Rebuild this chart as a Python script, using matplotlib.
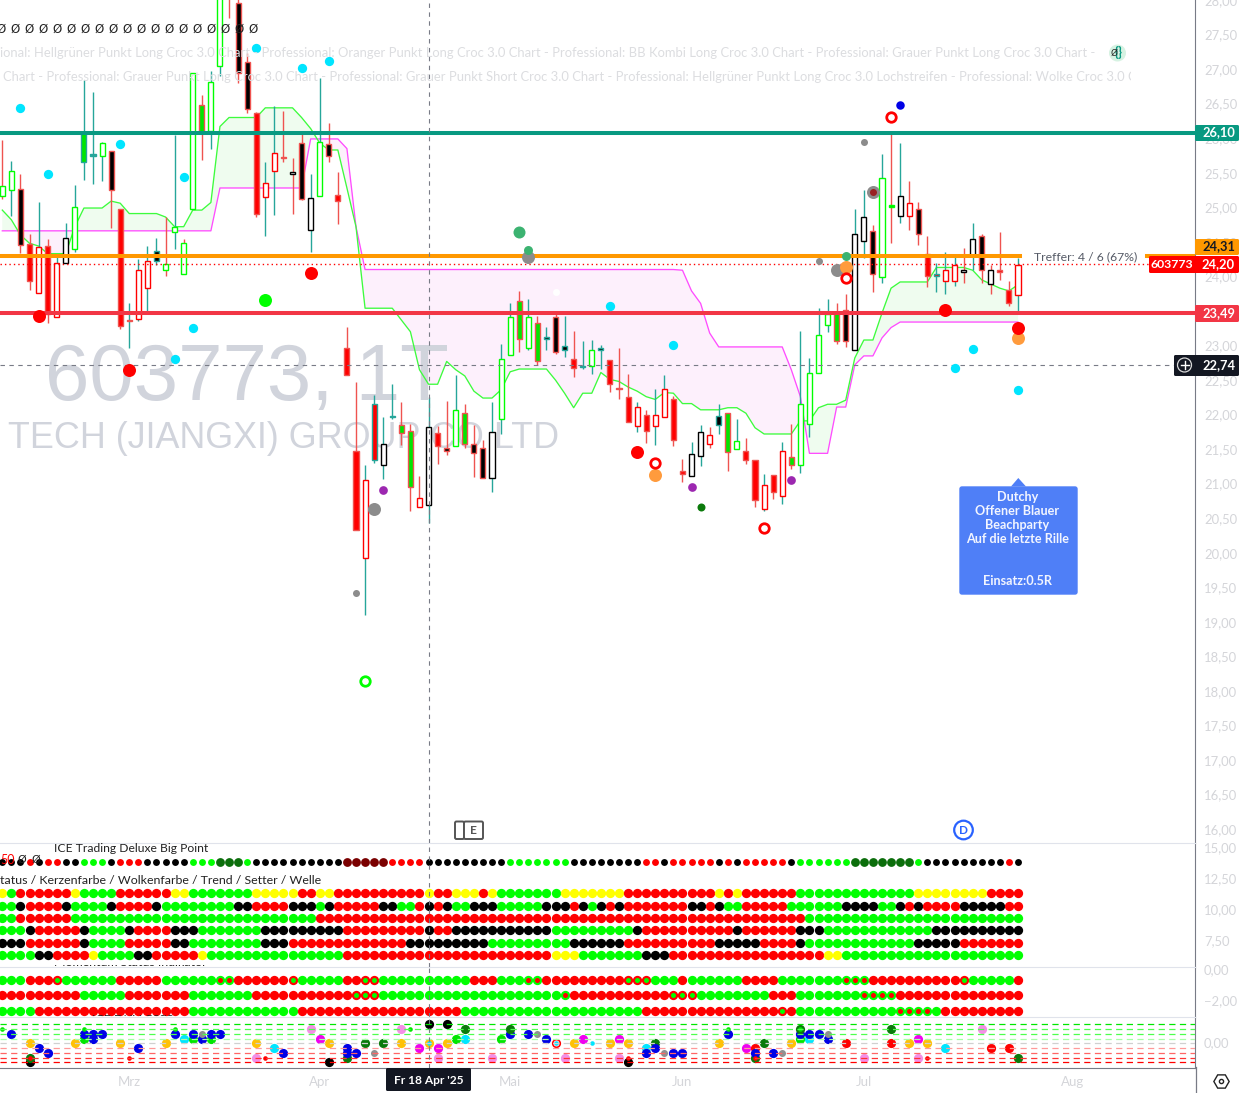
import matplotlib
matplotlib.use('Agg')
import matplotlib.pyplot as plt
import numpy as np
from matplotlib.patches import Circle, FancyBboxPatch, Polygon, Rectangle
from matplotlib.transforms import ScaledTranslation

W, H = 1244, 1093
X_RIGHT = 1195
FONT = 'Lato'
plt.rcParams['font.family'] = [FONT, 'DejaVu Sans']

# candles, one entry per bar
body_top = [25.33, 25.54, 25.29, 24.49, 24.45, 24.46, 24.22, 24.57, 25.02, 26.10,
            25.79, 25.95, 25.84, 24.99, 23.39, 24.12, 24.25, 24.39, 24.20, 24.74,
            24.51, 26.96, 26.50, 26.83, 28.30, 28.80, 27.98, 27.13, 26.39, 25.37,
            25.80, 25.75, 25.53, 25.95, 25.16, 25.97, 25.94, 25.20, 22.99, 21.50,
            21.08, 22.18, 21.60, 22.00, 21.87, 21.79, 20.81, 21.84, 21.75, 21.53,
            22.08, 22.05, 21.59, 21.54, 21.77, 22.82, 23.44, 23.66, 23.44, 23.34,
            23.15, 23.44, 23.02, 22.82, 22.73, 22.95, 22.98, 22.81, 22.41, 22.28,
            22.13, 22.01, 22.02, 22.39, 22.24, 21.21, 21.45, 21.77, 21.73, 22.00,
            22.05, 21.64, 21.50, 21.36, 21.00, 21.15, 21.50, 21.41, 22.17, 22.62,
            23.17, 23.47, 23.49, 23.53, 24.63, 24.88, 24.68, 25.45, 25.05, 25.18,
            25.08, 24.99, 24.34, 24.05, 24.11, 24.18, 24.12, 24.56, 24.60, 24.11,
            24.11, 23.83, 24.19]
body_bot = [25.19, 25.27, 24.47, 23.95, 23.78, 23.48, 23.44, 24.22, 24.42, 25.67,
            25.76, 25.77, 25.27, 23.30, 23.37, 23.41, 23.85, 24.25, 24.11, 24.66,
            24.06, 24.99, 26.11, 26.13, 27.07, 28.10, 26.97, 26.45, 24.93, 25.17,
            25.55, 25.73, 25.50, 25.14, 24.69, 25.18, 25.76, 25.11, 22.60, 20.35,
            19.95, 21.37, 21.29, 21.98, 21.75, 20.98, 20.68, 20.71, 21.56, 21.50,
            21.56, 21.59, 21.47, 21.11, 21.11, 21.95, 22.89, 23.12, 22.98, 22.79,
            23.12, 22.92, 22.96, 22.69, 22.71, 22.72, 22.95, 22.46, 22.39, 21.92,
            21.85, 21.78, 21.85, 21.98, 21.66, 21.16, 21.13, 21.42, 21.60, 21.87,
            21.48, 21.52, 21.36, 20.79, 20.65, 20.90, 20.84, 21.29, 21.29, 21.89,
            22.62, 23.31, 23.08, 23.08, 22.95, 24.53, 24.05, 24.01, 25.02, 24.90,
            24.90, 24.63, 24.02, 24.02, 23.96, 23.95, 24.09, 24.33, 24.12, 23.91,
            24.08, 23.63, 23.75]
wick_hi = [25.99, 25.69, 25.50, 24.64, 25.10, 24.56, 24.35, 24.79, 25.34, 26.87,
           26.69, 25.96, 25.84, 24.99, 23.64, 24.27, 24.46, 24.57, 24.88, 26.07,
           24.56, 26.96, 26.65, 26.99, 28.40, 28.90, 28.20, 27.25, 26.40, 25.67,
           26.48, 26.42, 25.73, 26.13, 25.50, 26.89, 26.24, 25.53, 23.29, 22.49,
           21.29, 22.30, 21.98, 22.47, 22.20, 21.89, 21.13, 22.28, 21.86, 22.22,
           22.59, 22.17, 21.87, 21.65, 22.20, 23.04, 23.63, 23.81, 23.69, 23.45,
           23.29, 23.50, 23.45, 23.23, 23.09, 23.10, 23.03, 22.81, 22.98, 22.61,
           22.20, 22.08, 22.39, 22.59, 22.29, 21.38, 21.62, 21.87, 21.84, 22.18,
           22.05, 21.95, 21.68, 21.36, 21.16, 21.15, 21.63, 21.88, 23.23, 22.84,
           23.56, 23.69, 23.63, 23.76, 25.00, 25.27, 24.76, 25.79, 26.09, 25.95,
           25.40, 25.10, 24.61, 24.22, 24.38, 24.35, 24.43, 24.79, 24.63, 24.19,
           24.66, 23.95, 24.29]
wick_lo = [25.14, 24.89, 24.36, 23.82, 23.78, 23.35, 23.44, 24.22, 24.38, 25.42,
           25.36, 25.40, 24.72, 23.26, 22.99, 23.37, 23.51, 24.19, 24.03, 24.41,
           24.06, 24.99, 25.70, 25.87, 26.92, 27.76, 26.82, 26.39, 24.88, 24.61,
           24.91, 25.68, 24.93, 25.12, 24.38, 25.18, 25.68, 24.78, 22.60, 20.35,
           19.12, 21.32, 21.09, 21.95, 21.58, 20.62, 20.68, 20.45, 21.31, 21.43,
           21.56, 21.54, 21.12, 21.11, 20.90, 21.74, 22.89, 22.92, 22.95, 22.74,
           22.96, 22.90, 22.86, 22.57, 22.68, 22.61, 22.68, 22.35, 22.25, 21.92,
           21.77, 21.61, 21.58, 21.98, 21.57, 21.04, 21.13, 21.28, 21.53, 21.74,
           21.21, 21.52, 21.31, 20.69, 20.62, 20.80, 20.72, 21.23, 21.18, 21.70,
           22.62, 23.22, 23.04, 23.00, 22.95, 24.28, 23.79, 23.93, 24.50, 24.79,
           24.69, 24.47, 23.87, 23.79, 23.77, 23.88, 23.93, 24.12, 23.93, 23.77,
           23.97, 23.59, 23.52]
body_fill = ('wwkrwrwwwg' 'twkrrwwkww' 'wwgwwrkkrw' 'wrwkwwkrrr' 'wrwtggwwrk'
             'wgkkwwwgwg' 'kkkrtwkrkr' 'wrwwrrwwwk' 'gwrrwrwgww' 'wwgkwwkwgw'
             'wkrrwwwwkw' 'rrw')
body_edge = ('ggrrRrRkgt' 'tgrrrRRtgg' 'ggrggrrrrR' 'Rrkrkgrrrr' 'RtktrrRkrr'
             'grrrkggrgr' 'trtrtgtrrr' 'RrRRrrkkRt' 'rgrrRrRrgg' 'ggrrkkrggk'
             'RrrtRRkkrk' 'rrR')
wick_col = ('rtrrtrtttt' 'ttrrttttrt' 'rtrttrrrrt' 'trrrttrrrr' 'ttttrrrtrr'
            'trrrtttrtr' 'trtrtttrrr' 'trttrrttrt' 'rtrrtrtrtt' 'ttrrttrtrt'
            'rrrtttrtrr' 'rrt')

# the two cloud lines
green_line = [24.98, 24.84, 24.62, 24.50, 24.46, 24.35, 24.35, 24.35, 24.74, 25.01,
              25.01, 25.01, 25.11, 25.08, 24.93, 24.93, 24.93, 24.93, 24.88, 24.74,
              24.74, 24.98, 24.98, 25.09, 26.19, 26.32, 26.32, 26.32, 26.32, 26.46,
              26.46, 26.46, 26.46, 26.32, 26.16, 25.95, 25.85, 25.85, 25.30, 24.74,
              23.56, 23.56, 23.56, 23.56, 23.39, 23.22, 22.67, 22.46, 22.46, 22.79,
              22.67, 22.58, 22.36, 22.26, 22.26, 22.38, 22.64, 22.68, 22.68, 22.68,
              22.68, 22.52, 22.33, 22.12, 22.33, 22.33, 22.63, 22.53, 22.50, 22.42,
              22.36, 22.28, 22.24, 22.34, 22.33, 22.18, 22.18, 22.09, 22.09, 22.09,
              22.12, 22.12, 22.04, 21.83, 21.74, 21.74, 21.74, 21.74, 21.93, 21.93,
              22.12, 22.17, 22.17, 22.23, 22.84, 23.10, 23.10, 23.49, 23.85, 23.94,
              23.94, 23.94, 23.94, 24.15, 24.15, 24.15, 24.15, 24.11, 23.97, 23.91,
              23.85, 23.81, 23.90]
magenta_line = ([24.68] * 24 + [25.30] * 10 + [26.01] * 4 + [25.87, 24.74] + [24.12] * 35 +
                [24.11, 23.81, 23.63, 23.20] + [23.00] * 8 +
                [22.67, 22.28, 21.46, 21.46, 21.46, 22.13, 22.13, 22.74, 22.87, 22.87, 23.13, 23.28] +
                [23.36] * 14)

# dots in the price pane: bar index, price
cyan_i = [2, 5, 13, 20, 28, 33, 36, 21, 19, 67, 74, 107, 105, 112]
cyan_p = [26.46, 25.50, 25.94, 25.46, 27.33, 27.04, 27.14, 23.27, 22.82, 23.59, 23.03, 22.97, 22.69, 22.38]
red_i = [4, 34, 14, 70, 104, 112]
red_p = [23.45, 24.07, 22.67, 21.48, 23.53, 23.27]
gray_i = [58, 41, 92, 96]
gray_p = [24.30, 20.65, 24.11, 25.24]
gray_small_i = [39, 95, 90]
gray_small_p = [19.44, 25.97, 24.24]
purple_i = [42, 76, 87]
purple_p = [20.93, 20.97, 21.07]
orange_i = [72, 93, 112]
orange_p = [21.15, 24.16, 23.13]
ring_i = [72, 84, 98, 93]
ring_p = [21.32, 20.38, 26.33, 24.00]
seagreen_i = [57, 58, 93]
seagreen_p = [24.66, 24.40, 24.32]

levels = [('#089981', 26.10), ('#ff9800', 24.31), ('#f23645', 23.49)]
last_price = 24.20
cross_price = 22.74
cross_bar = 47

price_ticks = [16 + 0.5 * k for k in range(25)]
status_ticks = [15.0, 12.5, 10.0, 7.5]
momentum_ticks = [0.0, -2.0]
month_bars = [14, 35, 56, 75, 95, 118]
month_labels = ['Mrz', 'Apr', 'Mai', 'Jun', 'Jul', 'Aug']

# status rows, one letter per bar
big_point = 'kkkrkrrkkgggkrrrkkkkkgggDDDg' + 'k' * 10 + 'M' * 5 + 'r' * 4 + 'k' * 9 + 'g' * 7 + 'k' * 8 + \
            'rrk' + 'r' * 5 + 'krk' + 'r' * 5 + 'k' + 'g' * 6 + 'D' * 7 + 'g' + 'k' * 9 + 'rk'
status_1 = 'yg' + 'r' * 6 + 'y' + 'g' * 4 + 'r' * 6 + 'yy' + 'g' * 7 + 'y' * 5 + 'rryy' + 'r' * 10 + 'yrr' + 'yyy' + \
           'ry' + 'g' * 7 + 'y' * 7 + 'r' * 10 + 'yry' + 'r' * 6 + 'g' * 13 + 'y' * 8 + 'rrrr'
status_2 = 'ggk' + 'rrrr' + 'k' + 'gggg' + 'k' + 'rrrr' + 'k' + 'g' * 8 + 'kk' + 'rrrr' + 'kkkgk' + 'r' * 5 + 'kkgg' + \
           'rkrkgg' + 'kkk' + 'g' * 5 + 'kkk' + 'rkgkrk' + 'r' * 7 + 'kkrkgg' + 'r' * 5 + 'g' * 6 + 'kkkkggkrk' + \
           'rrrr' + 'k' * 5 + 'rr'
status_3 = 'gg' + 'r' * 6 + 'g' * 27 + 'r' * 54 + 'g' * 24
status_4 = 'gggk' + 'r' * 5 + 'k' + 'gggg' + 'k' + 'rrrr' + 'kkk' + 'g' * 7 + 'k' * 9 + 'r' * 9 + 'krr' + 'k' * 11 + \
           'g' * 9 + 'k' + 'r' * 10 + 'k' + 'r' * 6 + 'kkk' + 'g' * 12 + 'k' * 10
status_5 = 'kkk' + 'r' * 6 + 'k' + 'gggg' + 'r' * 5 + 'kk' + 'g' * 8 + 'kkk' + 'r' * 13 + 'k' * 9 + 'g' * 9 + 'k' * 6 + \
           'r' * 10 + 'k' * 5 + 'rrrr' + 'k' + 'g' * 12 + 'k' * 5 + 'r' * 7
status_6 = 'ggggkk' + 'rrrr' + 'y' + 'gggg' + 'kk' + 'r' * 5 + 'y' + 'g' * 15 + 'r' * 23 + 'yyy' + 'g' * 7 + 'kkk' + \
           'r' * 17 + 'yy' + 'g' * 20
status_rows = [status_1, status_2, status_3, status_4, status_5, status_6]
status_values = [11.45, 10.38, 9.44, 8.44, 7.40, 6.43]

# a = red with green centre, b = green with red centre
momentum_1 = 'gggrrra' + 'g' * 6 + 'r' * 5 + 'g' * 6 + 'bb' + 'r' * 6 + 'a' + 'g' * 5 + 'rraa' + 'g' * 10 + 'rrrgggbb' + \
             'r' * 9 + 'aaaggg' + 'r' + 'g' * 6 + 'rrrr' + 'g' * 7 + 'bbb' + 'r' * 10 + 'a' + 'g' * 5 + 'r'
momentum_2 = 'r' * 9 + 'g' * 5 + 'r' * 7 + 'g' * 7 + 'r' * 11 + 'aaa' + 'g' * 20 + 'b' + 'r' * 11 + 'aaa' + 'g' * 8 + \
             'rrr' + 'g' * 7 + 'bbbb' + 'r' * 14
momentum_3 = 'gggg' + 'r' * 17 + 'g' * 12 + 'r' * 18 + 'g' * 20 + 'r' * 15 + 'ar' + 'g' * 11 + 'bbbbg' + 'r' * 9
momentum_rows = [momentum_1, momentum_2, momentum_3]
momentum_values = [-0.6, -1.57, -2.6]

# DNA dots: bar, level, colour letter
dna_points = [(0, 3, 'g'), (1, 2, 'B'), (3, 0, 'O'), (4, -1, 'B'), (5, -2, 'B'), (3, -4, 'K'), (3, -3, 'D'), (3, -3, 'r'),
              (8, 0, 'O'), (9, 1, 'G'), (9, 2, 'B'), (9, 3, 'g'), (10, 1, 'B'), (10, 2, 'B'), (11, 2, 'B'), (13, 0, 'O'),
              (14, -3, 'r'), (15, -1, 'B'), (18, 0, 'O'), (19, 2, 'B'), (19, 3, 'g'), (21, 1, 'G'), (21, 2, 'B'),
              (20, 1, 'C'), (22, 1, 'B'), (22, 2, 'A'), (23, 1, 'G'), (23, 2, 'B'), (24, 2, 'B'), (28, 0, 'O'), (28, -3, 'P'),
              (29, -3, 'r'), (30, -1, 'C'), (31, -2, 'B'), (34, 3, 'P'), (35, 1, 'M'), (36, 0, 'O'), (36, -4, 'K'),
              (38, -3, 'D'), (38, -2, 'B'), (38, -1, 'B'), (39, -2, 'B'), (40, 0, 'D'), (41, -2, 'A'), (42, 0, 'D'),
              (44, 3, 'P'), (44, 0, 'O'), (45, 3, 'g'), (46, -1, 'M'), (47, 4, 'K'), (47, 0, 'O'), (47, 0, 'c'),
              (48, -1, 'M'), (48, -3, 'P'), (49, 4, 'K'), (49, 0, 'O'), (50, 1, 'G'), (51, 3, 'D'), (51, 1, 'C'),
              (54, -3, 'P'), (55, 1, 'G'), (56, 2, 'B'), (56, 3, 'D'), (58, 2, 'B'), (59, 2, 'A'), (60, 1, 'B'),
              (61, 0, 'R'), (61, 0, 'W'), (61, 0, 'c'), (62, -3, 'P'), (63, 0, 'O'), (64, 1, 'M'), (65, 0, 'c'), (67, 0, 'O'),
              (68, 1, 'M'), (68, -3, 'P'), (69, 0, 'O'), (69, -4, 'K'), (69, -3, 'r'), (71, -1, 'C'), (71, -2, 'B'),
              (72, 0, 'D'), (72, -1, 'B'), (73, -2, 'A'), (74, -2, 'B'), (75, -2, 'B'), (79, 0, 'O'), (80, 2, 'B'),
              (80, 3, 'g'), (82, -1, 'M'), (83, -1, 'R'), (83, -3, 'D'), (83, -2, 'B'), (83, -3, 'r'), (84, 0, 'D'),
              (85, -2, 'B'), (86, -2, 'A'), (87, 0, 'O'), (88, 1, 'G'), (88, 2, 'B'), (88, 3, 'D'), (88, 3, 'g'),
              (89, 1, 'C'), (89, 2, 'B'), (90, 2, 'B'), (91, 1, 'B'), (91, 2, 'A'), (93, 0, 'R'), (95, -3, 'P'),
              (98, 3, 'D'), (98, 0, 'R'), (100, 0, 'O'), (101, 1, 'M'), (101, -3, 'P'), (102, 0, 'O'), (102, -3, 'r'),
              (104, -1, 'C'), (108, 3, 'P'), (109, -1, 'R'), (111, -1, 'R'), (112, -3, 'D')]
dna_levels = [4, 3, 2, 1, 0, -1, -2, -3, -4]
dna_level_colors = ['#00e600', '#4dff4d', '#4dff4d', '#a6ffa6', '#d0d0d0', '#ff9999', '#ff6666', '#ff3333', '#ff0000']

FILLS = {'r': '#ff0000', 'g': '#00e600', 'k': '#000000', 'w': '#ffffff', 't': '#26a69a'}
EDGES = {'r': '#ef5350', 'R': '#ff0000', 'g': '#00ff00', 'k': '#000000', 't': '#26a69a'}
WICKS = {'r': '#ef5350', 't': '#26a69a'}
DOTS = {'r': '#ff0000', 'g': '#00ff00', 'k': '#000000', 'y': '#ffff00', 'D': '#0b6e0b', 'M': '#7a0000',
        'a': '#ff0000', 'b': '#00ff00'}
DNA_COLORS = {'B': ('#0000e6', 9.2), 'O': ('#ffc107', 9.2), 'D': ('#0b7a0b', 9.2), 'G': ('#00e600', 9.2),
              'C': ('#00e5ff', 9.2), 'P': ('#f48fe6', 9.2), 'M': ('#f000f0', 9.2), 'K': ('#000000', 9.2),
              'A': ('#909090', 7), 'R': ('#ff0000', 9.2), 'W': ('#ffffff', 6.0), 'g': ('#00e600', 4.6),
              'r': ('#ff0000', 4.6), 'c': ('#00e5ff', 4.6)}

TICK_GRAY = '#d4d5d9'
AXIS_GRAY = '#787b86'
PANE_LINE = '#e0e3eb'
DARK = '#131722'

BAR_STEP = 9.069
X0 = 2.3
n_bars = len(body_top)
bars = np.arange(n_bars)


def dot_size(d_px):
    # diameter in pixels to scatter area in points
    return (d_px * 0.72) ** 2


def comma(v):
    return '{:.2f}'.format(v).replace('.', ',').replace('-', '\u2212')


def make_pane(fig, top, bottom, y_top, y_bottom, ticks):
    ax = fig.add_axes([0, 1 - bottom / H, X_RIGHT / W, (bottom - top) / H])
    ax.set_xlim(-X0 / BAR_STEP, (X_RIGHT - X0) / BAR_STEP)
    ax.set_ylim(y_bottom, y_top)
    ax.yaxis.tick_right()
    ax.set_yticks(ticks)
    ax.set_yticklabels([comma(t) for t in ticks], fontsize=9.4, color=TICK_GRAY)
    ax.tick_params(axis='y', length=0, pad=6.5)
    # axis labels sit a little above their gridline in the original
    up = ScaledTranslation(0, 1.5 / 100, fig.dpi_scale_trans)
    for label in ax.get_yticklabels():
        label.set_transform(label.get_transform() + up)
    ax.set_xticks([])
    for side in ['left', 'top', 'bottom']:
        ax.spines[side].set_visible(False)
    ax.spines['right'].set_color(AXIS_GRAY)
    ax.spines['top'].set_visible(True)
    ax.spines['top'].set_color(PANE_LINE)
    ax.axvline(cross_bar, color=AXIS_GRAY, lw=0.8, dashes=(4, 4), zorder=9)
    return ax


def draw_price_pane(ax):
    ax.spines['top'].set_visible(False)
    ax.text(45 / X_RIGHT, 1 - 400.5 / 843, '603773, 1T', transform=ax.transAxes, fontsize=57.5,
            family='Liberation Sans', color='#d1d4dc', zorder=1.5)
    ax.text(8 / X_RIGHT, 1 - 448 / 843, 'TECH (JIANGXI) GROUP CO LTD', transform=ax.transAxes, fontsize=25.8,
            family='Liberation Sans', color='#d1d4dc', zorder=1.5)

    green = np.array(green_line)
    magenta = np.array(magenta_line)
    ax.fill_between(bars, green, magenta, where=green >= magenta, interpolate=True, color='#effcef', lw=0, zorder=1)
    ax.fill_between(bars, green, magenta, where=green < magenta, interpolate=True, color='#fdf0fc', lw=0, zorder=1)
    ax.plot(bars, magenta, color='#ff4dff', lw=0.95, zorder=2)
    ax.plot(bars, green, color='#3dfc3d', lw=0.95, zorder=2)

    ax.vlines(bars, wick_lo, wick_hi, colors=[WICKS[c] for c in wick_col], lw=1.0, zorder=3)
    heights = np.array(body_top) - np.array(body_bot)
    ax.bar(bars, heights, bottom=body_bot, width=0.56, color=[FILLS[c] for c in body_fill],
           edgecolor=[EDGES[c] for c in body_edge], linewidth=1.0, zorder=4)

    for color, price in levels:
        ax.axhline(price, color=color, lw=2.9, zorder=5, xmax=1020 / X_RIGHT if color == '#ff9800' else 1)
    ax.axhline(levels[1][1], color=levels[1][0], lw=2.9, zorder=5, xmin=1147 / X_RIGHT)
    ax.axhline(last_price, color='#ff0000', lw=1.0, dashes=(1, 2.2), zorder=5, xmax=1149 / X_RIGHT)
    ax.axhline(cross_price, color=AXIS_GRAY, lw=0.8, dashes=(4, 4), zorder=5)

    ax.scatter(cyan_i, cyan_p, s=dot_size(9.3), color='#00e5ff', lw=0, zorder=6)
    ax.scatter(seagreen_i[2:], seagreen_p[2:], s=dot_size(9), color='#3cb371', lw=0, zorder=6)
    ax.scatter(gray_i, gray_p, s=dot_size(13), color='#8c8c8c', lw=0, zorder=6)
    ax.scatter(seagreen_i[:1], seagreen_p[:1], s=dot_size(12), color='#3cb371', lw=0, zorder=6)
    ax.scatter(seagreen_i[1:2], seagreen_p[1:2], s=dot_size(9), color='#3cb371', lw=0, zorder=7)
    ax.scatter(gray_small_i, gray_small_p, s=dot_size(7), color='#8c8c8c', lw=0, zorder=6)
    ax.scatter([96], [25.24], s=dot_size(7), color='#992222', lw=0, zorder=7)
    ax.scatter(purple_i, purple_p, s=dot_size(8.7), color='#9c27b0', lw=0, zorder=6)
    ax.scatter(orange_i, orange_p, s=dot_size(13), color='#ff9b3d', lw=0, zorder=6)
    ax.scatter(red_i, red_p, s=dot_size(13), color='#ff0000', lw=0, zorder=7)
    ax.scatter([29], [23.68], s=dot_size(13), color='#00ff00', lw=0, zorder=6)
    ax.scatter([77], [20.68], s=dot_size(8), color='#0b7a0b', lw=0, zorder=6)
    ax.scatter([99], [26.50], s=dot_size(8.5), color='#0000e6', lw=0, zorder=6)
    ax.scatter([61], [23.79], s=dot_size(7), color='#ffffff', lw=0, zorder=6)
    ax.scatter(ring_i, ring_p, s=dot_size(9.5), facecolor='#ffffff', edgecolor='#ff0000', lw=2.0, zorder=7)
    ax.scatter([40], [18.17], s=dot_size(9.5), facecolor='#ffffff', edgecolor='#00ff00', lw=2.0, zorder=7)


def draw_row(ax, codes, value, d_px, big_px=None):
    for i, c in enumerate(codes):
        size = big_px if (big_px and c in 'DM') else d_px
        ax.scatter(i, value, s=dot_size(size), color=DOTS[c], lw=0, zorder=3)
        if c in 'ab':
            ax.scatter(i, value, s=dot_size(5), color=DOTS['g' if c == 'a' else 'r'], lw=0, zorder=4)


def draw_dna(ax):
    for level, color in zip(dna_levels, dna_level_colors):
        ax.axhline(level, color=color, lw=0.9, dashes=(5, 3.5), zorder=4)
    for i, level, code in dna_points:
        color, d_px = DNA_COLORS[code]
        ax.scatter(i, level, s=dot_size(d_px), color=color, lw=0, zorder=3)


def clipped_text(ov, x, y, txt, box, **kwargs):
    t = ov.text(x, y, txt, clip_on=True, **kwargs)
    t.set_clip_path(Rectangle((box[0], box[1]), box[2], box[3], transform=ov.transData))
    return t


def draw_overlay(ov):
    ov.set_xlim(0, W)
    ov.set_ylim(H, 0)
    ov.axis('off')
    ov.patch.set_alpha(0)

    for k in range(19):
        ov.text(1 + 14 * k, 29, '\u00d8', fontsize=8.5, color='#222222', ha='center', va='center', family='DejaVu Sans')

    pale = '#dcdde0'
    ov.text(0, 53, 'ional: Hellgr\u00fcner Punkt Long Croc 3.0 Chart - Professional: Oranger Punkt Long Croc 3.0 Chart - '
                   'Professional: BB Kombi Long Croc 3.0 Chart - Professional: Grauer Punkt Long Croc 3.0 Chart -',
            fontsize=9.35, color=pale, va='center')
    clipped_text(ov, 3, 77, 'Chart - Professional: Grauer Punkt Long Croc 3.0 Chart - Professional: Grauer Punkt Short '
                            'Croc 3.0 Chart - Professional: Hellgr\u00fcner Punkt Long Croc 3.0 Lochstreifen - '
                            'Professional: Wolke Croc 3.0 Chart', (0, 60, 1131, 30), fontsize=9.35, color=pale, va='center')
    ov.add_patch(Circle((1117.5, 53), 8.5, color='#d6f2e2', lw=0))
    ov.text(1118.5, 52.5, '{}', fontsize=9.5, color='#089981', ha='center', va='center', weight='bold')
    ov.text(1114.5, 53, '\u00d8', fontsize=6.5, color='#222222', ha='center', va='center', family='DejaVu Sans')

    ov.text(1034, 257, 'Treffer: 4 / 6 (67%)', fontsize=8.8, color='#555a66', va='center')

    # callout
    ov.add_patch(Polygon([[1011, 486.5], [1018.3, 478], [1026, 486.5]], color='#4f7ff7', lw=0))
    ov.add_patch(FancyBboxPatch((960, 487), 117, 107, boxstyle='round,pad=0,rounding_size=2', fc='#4f7ff7', ec='#4f7ff7', lw=1))
    for y, txt in [(497, 'Dutchy'), (511, 'Offener Blauer'), (525, 'Beachparty'), (539, 'Auf die letzte Rille'),
                   (581, 'Einsatz:0.5R')]:
        ov.text(1017.5, y, txt, fontsize=9.1, color='#f2f5ff', ha='center', va='center', weight='bold')

    # earnings and dividend marks
    for x0, x1 in [(455, 464), (464, 483)]:
        ov.add_patch(FancyBboxPatch((x0, 821.5), x1 - x0, 17.5, boxstyle='round,pad=0,rounding_size=1.5', fc='#ffffff',
                                    ec='#555555', lw=1.4, zorder=3))
    ov.text(473.5, 830.5, 'E', fontsize=8.5, color='#555555', ha='center', va='center', zorder=4, weight='bold')
    ov.add_patch(Circle((963.5, 830), 9.3, fc='#ffffff', ec='#2962ff', lw=1.6))
    ov.text(963.5, 830.5, 'D', fontsize=8.5, color='#2962ff', ha='center', va='center', weight='bold')

    # pane titles
    ov.text(54, 849, 'ICE Trading Deluxe Big Point', fontsize=8.7, color='#222222', va='center')
    ov.text(0, 880, 'tatus / Kerzenfarbe / Wolkenfarbe / Trend / Setter / Welle', fontsize=8.9, color='#222222', va='center')
    clipped_text(ov, 54, 962.5, 'Momentum Status Indikator', (0, 964.5, 400, 6), fontsize=8.9, color='#222222', va='center')
    clipped_text(ov, 92, 1012, 'ICE DNA Code', (0, 1014.5, 400, 6), fontsize=8.9, color='#222222', va='center')
    ov.text(0, 860, '50', fontsize=9, color='#ff0000', va='center')
    ov.text(22, 860, '\u00d8', fontsize=8, color='#222222', ha='center', va='center', zorder=5, family='DejaVu Sans')
    ov.text(36, 860, '\u00d8', fontsize=8, color='#222222', ha='center', va='center', zorder=5, family='DejaVu Sans')

    # price tags on the axis
    tags = [(125, 141, X_RIGHT, 1239, '#089981', '26,10', '#ffffff'),
            (239, 255, X_RIGHT, 1239, '#ff9800', '24,31', '#131722'),
            (256, 273, 1149, 1239, '#ff0000', '24,20', '#ffffff'),
            (305, 322, X_RIGHT, 1239, '#f23645', '23,49', '#ffffff'),
            (355, 376, 1174, 1239, DARK, '22,74', '#ffffff')]
    for y0, y1, x0, x1, color, txt, txt_color in tags:
        ov.add_patch(FancyBboxPatch((x0, y0), x1 - x0, y1 - y0, boxstyle='round,pad=0,rounding_size=1.5', fc=color, ec=color, lw=0))
        ov.text(1218.5, (y0 + y1) / 2 - 0.5, txt, fontsize=9.3, color=txt_color, ha='center', va='center', weight='bold')
    ov.text(1172, 264, '603773', fontsize=8.8, color='#ffffff', ha='center', va='center', weight='bold')
    ov.add_patch(Circle((1184.5, 365), 7, fc=DARK, ec='#d8d8d8', lw=0.9))
    ov.plot([1180.5, 1188.5], [365, 365], color='#ffffff', lw=1)
    ov.plot([1184.5, 1184.5], [361, 369], color='#ffffff', lw=1)

    # bottom axis
    ov.plot([X_RIGHT + 0.5, X_RIGHT + 0.5], [1067, H], color=AXIS_GRAY, lw=0.9)
    ov.add_patch(FancyBboxPatch((386, 1068), 85, 23, boxstyle='round,pad=0,rounding_size=1.5', fc=DARK, ec=DARK, lw=0))
    ov.text(428.5, 1081, "Fr 18 Apr '25", fontsize=8.6, color='#ffffff', ha='center', va='center', weight='bold')
    ov.plot([1221], [1081], marker='H', ms=11, mfc='#ffffff', mec='#222222', mew=1.0)
    ov.plot([1221], [1081], marker='o', ms=3, mfc='#ffffff', mec='#222222', mew=1.0)


def main():
    fig = plt.figure(figsize=(W / 100, H / 100), dpi=100, facecolor='#ffffff')

    # price axis: 69.1 px per unit, 24.20 sits at y=264
    ax = make_pane(fig, 0, 843, 24.2 + 264 / 69.1, 24.2 - (843 - 264) / 69.1, price_ticks)
    draw_price_pane(ax)

    status_ax = make_pane(fig, 843, 966.7, 15.48, 5.51, status_ticks)
    draw_row(status_ax, big_point, 13.95, 6.9, 8.8)
    for codes, value in zip(status_rows, status_values):
        draw_row(status_ax, codes, value, 9.3)

    mom_ax = make_pane(fig, 966.7, 1016.7, 0.28, -2.95, momentum_ticks)
    for codes, value in zip(momentum_rows, momentum_values):
        draw_row(mom_ax, codes, value, 9.3)

    dna_ax = make_pane(fig, 1016.7, 1067.7, 5.6, -5.14, [0.0])
    draw_dna(dna_ax)
    dna_ax.spines['bottom'].set_visible(True)
    dna_ax.spines['bottom'].set_color(AXIS_GRAY)
    dna_ax.set_xticks(month_bars)
    dna_ax.set_xticklabels(month_labels, fontsize=9.5, color=TICK_GRAY)
    dna_ax.tick_params(axis='x', length=0, pad=6)

    ov = fig.add_axes([0, 0, 1, 1], zorder=10)
    draw_overlay(ov)

    fig.savefig('out.png', dpi=100)


if __name__ == '__main__':
    main()
